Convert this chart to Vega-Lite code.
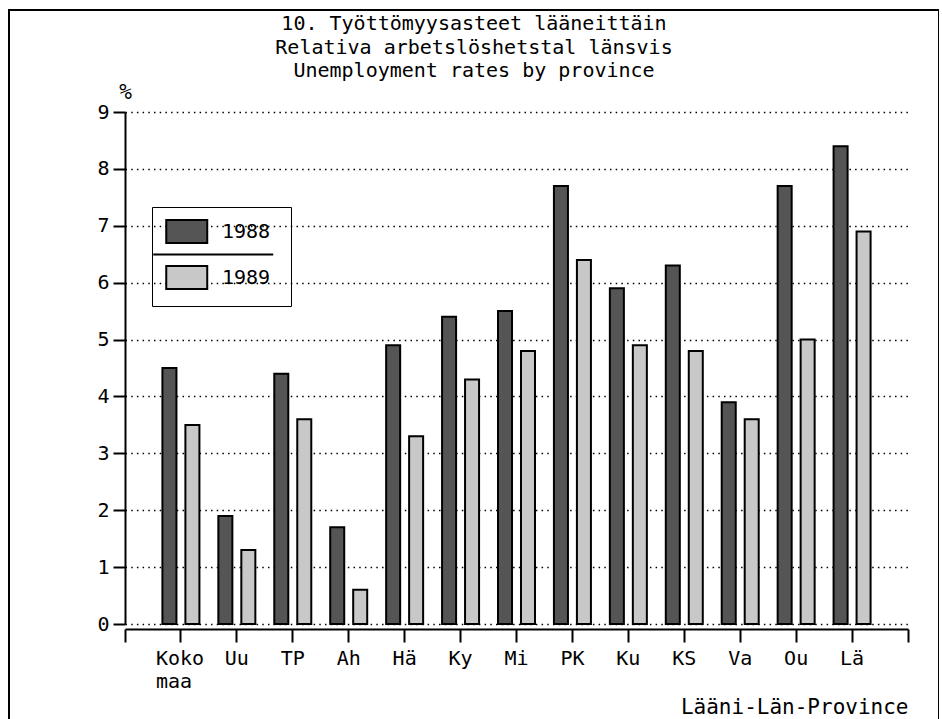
{
  "$schema": "https://vega.github.io/schema/vega-lite/v6.json",
  "width": 930,
  "height": 720,
  "autosize": {"type": "none"},
  "padding": {"left": 9, "top": 10, "right": 0, "bottom": 0},
  "background": "white",
  "config": {
    "font": "DejaVu Sans Mono",
    "view": {"stroke": "black", "strokeWidth": 2},
    "axis": {
      "labelFont": "DejaVu Sans Mono",
      "titleFont": "DejaVu Sans Mono",
      "labelColor": "black",
      "titleColor": "black",
      "domainColor": "black",
      "tickColor": "black",
      "labelFontSize": 20,
      "titleFontSize": 21,
      "titleFontWeight": "normal",
      "domainWidth": 2,
      "tickWidth": 2
    },
    "legend": {"labelFont": "DejaVu Sans Mono", "labelFontSize": 20, "labelColor": "black"}
  },
  "title": {
    "text": ["10. Työttömyysasteet lääneittäin", "Relativa arbetslöshetstal länsvis", "Unemployment rates by province"],
    "font": "DejaVu Sans Mono",
    "fontSize": 20,
    "fontWeight": "normal",
    "lineHeight": 23.4,
    "frame": "group",
    "anchor": "middle",
    "offset": -71,
    "color": "black"
  },
  "data": {
    "values": [
      {"province": "Koko maa", "year": "1988", "rate": 4.5},
      {"province": "Koko maa", "year": "1989", "rate": 3.5},
      {"province": "Uu", "year": "1988", "rate": 1.9},
      {"province": "Uu", "year": "1989", "rate": 1.3},
      {"province": "TP", "year": "1988", "rate": 4.4},
      {"province": "TP", "year": "1989", "rate": 3.6},
      {"province": "Ah", "year": "1988", "rate": 1.7},
      {"province": "Ah", "year": "1989", "rate": 0.6},
      {"province": "Hä", "year": "1988", "rate": 4.9},
      {"province": "Hä", "year": "1989", "rate": 3.3},
      {"province": "Ky", "year": "1988", "rate": 5.4},
      {"province": "Ky", "year": "1989", "rate": 4.3},
      {"province": "Mi", "year": "1988", "rate": 5.5},
      {"province": "Mi", "year": "1989", "rate": 4.8},
      {"province": "PK", "year": "1988", "rate": 7.7},
      {"province": "PK", "year": "1989", "rate": 6.4},
      {"province": "Ku", "year": "1988", "rate": 5.9},
      {"province": "Ku", "year": "1989", "rate": 4.9},
      {"province": "KS", "year": "1988", "rate": 6.3},
      {"province": "KS", "year": "1989", "rate": 4.8},
      {"province": "Va", "year": "1988", "rate": 3.9},
      {"province": "Va", "year": "1989", "rate": 3.6},
      {"province": "Ou", "year": "1988", "rate": 7.7},
      {"province": "Ou", "year": "1989", "rate": 5.0},
      {"province": "Lä", "year": "1988", "rate": 8.4},
      {"province": "Lä", "year": "1989", "rate": 6.9}
    ]
  },
  "layer": [
    {
      "mark": {"type": "bar", "stroke": "black", "strokeWidth": 2},
      "encoding": {
        "x": {
          "field": "province",
          "type": "nominal",
          "sort": null,
          "scale": {"range": [116, 899], "paddingInner": 0.3385, "paddingOuter": 0.669, "round": false},
          "axis": {
            "orient": "bottom",
            "offset": -101,
            "domain": true,
            "grid": false,
            "ticks": true,
            "tickSize": 13,
            "labelPadding": 6,
            "labelAngle": 0,
            "labelBaseline": "top",
            "labelLineHeight": 23.4,
            "labelAlign": {"condition": {"test": "datum.label == 'Koko maa'", "value": "left"}, "value": "center"},
            "labelOffset": {"condition": {"test": "datum.label == 'Koko maa'", "value": -25}, "value": 0},
            "labelExpr": "datum.label == 'Koko maa' ? ['Koko', 'maa'] : datum.label",
            "title": "Lääni-Län-Province",
            "titleAnchor": "end",
            "titleAlign": "right",
            "titleBaseline": "top",
            "titleY": 67
          }
        },
        "xOffset": {"field": "year", "type": "nominal", "scale": {"paddingInner": 0.39, "paddingOuter": 0}},
        "y": {
          "field": "rate",
          "type": "quantitative",
          "scale": {"domain": [0, 9], "range": [614, 102], "nice": false, "zero": true},
          "axis": {
            "orient": "left",
            "offset": -116,
            "values": [0, 1, 2, 3, 4, 5, 6, 7, 8, 9],
            "format": "d",
            "grid": true,
            "gridDash": [1.5, 4.2],
            "gridColor": "black",
            "gridWidth": 1.5,
            "domain": true,
            "tickSize": 12,
            "labelPadding": 4,
            "title": "%",
            "titleAngle": 0,
            "titleX": 0,
            "titleY": 82,
            "titleAlign": "center",
            "titleBaseline": "middle"
          }
        },
        "fill": {
          "field": "year",
          "type": "nominal",
          "scale": {"range": ["#555555", "#c8c8c8"]},
          "legend": {
            "orient": "none",
            "legendX": 143,
            "legendY": 197,
            "title": null,
            "strokeColor": "black",
            "padding": 13,
            "symbolType": "M-1,-1.12L3,-1.12L3,1.12L-1,1.12Z",
            "symbolSize": 420,
            "symbolStrokeColor": "black",
            "symbolStrokeWidth": 2,
            "symbolOpacity": 1,
            "labelFont": "DejaVu Sans Mono",
            "labelFontSize": 20,
            "labelColor": "black",
            "labelOffset": 34,
            "rowPadding": 3,
            "encode": {
              "symbols": {
                "update": {
                  "shape": {"signal": "datum.index === 0 ? 'M-1,-1.12L3,-1.12L3,1.12L-1,1.12Z M-2.27,2.24L9.44,2.24' : 'M-1,-1.12L3,-1.12L3,1.12L-1,1.12Z'"}
                }
              }
            }
          }
        }
      }
    },
    {
      "data": {"values": [{"edge": 0}]},
      "mark": {"type": "point", "opacity": 0},
      "encoding": {
        "x": {
          "field": "edge",
          "type": "quantitative",
          "scale": {"domain": [0, 14], "range": [116, 899], "nice": false, "zero": false},
          "axis": {"orient": "bottom", "offset": -101, "values": [0, 14], "labels": false, "domain": false, "grid": false, "ticks": true, "tickSize": 13, "title": null}
        },
        "y": {"field": "edge", "type": "quantitative"}
      }
    }
  ],
  "resolve": {"scale": {"x": "independent"}}
}
